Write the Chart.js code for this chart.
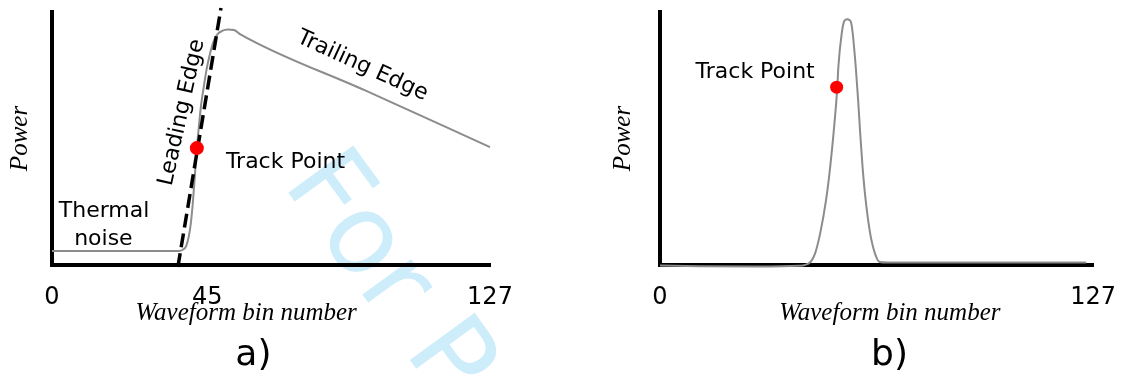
<!DOCTYPE html>
<html>
<head>
<meta charset="utf-8">
<title>Altimeter waveform shapes</title>
<script src="https://cdn.jsdelivr.net/npm/chart.js@4.4.1/dist/chart.umd.min.js"></script>
<style>
  html, body { margin: 0; padding: 0; background: #fff; }
  body { width: 1126px; height: 379px; position: relative; overflow: hidden; }
  #wrapA { position: absolute; left: 0; top: 0; width: 563px; height: 379px; }
  #wrapB { position: absolute; left: 605px; top: 0; width: 521px; height: 379px; }
  canvas { display: block; }
</style>
</head>
<body>
<div id="wrapA"><canvas id="chartA" width="563" height="379"></canvas></div>
<div id="wrapB"><canvas id="chartB" width="521" height="379"></canvas></div>
<script>
// ---- Panel a: ocean-like waveform (noise floor, leading edge, trailing edge) ----
const binsA  = [0, 36.8, 38.0, 38.9, 39.7, 40.3, 40.9, 41.5, 42.0, 42.6, 43.2, 44.1, 44.9, 45.8, 46.7, 47.8, 49.3, 51.0, 52.8, 54.5, 90.8, 127];
const powerA = [5.5, 5.5, 6.1, 7.5, 11.5, 17.0, 25.7, 36.8, 46.2, 54.9, 62.9, 71.2, 77.9, 83.4, 87.8, 90.9, 92.5, 93.1, 92.9, 91.3, 69.0, 46.6];

// fitted leading-edge line
const binsEdgeA  = [36.5, 49.0];
const powerEdgeA = [-0.8, 101.6];

// retracking point on the leading edge
const trackBinA   = [42.0];
const trackPowerA = [46.2];

const ticksA = [0, 45, 127];

// ---- Panel b: specular (peaky) waveform ----
const binsB  = [0, 11.6, 29.1, 40.7, 44.1, 45.5, 47.0, 48.7, 49.9, 50.9, 52.0, 52.3, 53.3, 53.9, 54.4, 54.9, 55.5, 56.0, 56.5, 57.4, 58.1, 58.7, 59.4, 60.3, 61.6, 63.0, 64.4, 66.8, 125.0];
const powerB = [-0.2, -0.5, -0.6, -0.3, 1.2, 4.7, 12.7, 25.7, 38.7, 52.2, 70.4, 78.3, 91.7, 96.0, 96.9, 97.1, 96.9, 96.0, 91.7, 78.3, 65.2, 52.2, 38.7, 25.7, 12.7, 4.7, 1.2, 1.0, 1.0];

const trackBinB   = [51.8];
const trackPowerB = [70.3];

const ticksB = [0, 127];

// ---- text placed in data coordinates ----
const notesA = [
  { text: 'Leading Edge',  x: 37.7, y: 60.3, angle: -77.5, baseline: 'middle' },
  { text: 'Trailing Edge', x: 90.0, y: 78.7, angle: 24.5,  baseline: 'middle' },
  { text: 'Track Point',   x: 67.7, y: 38.3, angle: 0,     baseline: 'alphabetic' },
  { text: 'Thermal',       x: 15.1, y: 19.0, angle: 0,     baseline: 'alphabetic' },
  { text: 'noise',         x: 14.9, y: 7.9,  angle: 0,     baseline: 'alphabetic' }
];
const notesB = [
  { text: 'Track Point',   x: 27.9, y: 73.9, angle: 0,     baseline: 'alphabetic' }
];

const captionA = { title: 'Waveform bin number', titleX: 56.3, panel: 'a)', panelX: 58.4 };
const captionB = { title: 'Waveform bin number', titleX: 67.4, panel: 'b)', panelX: 67.3 };

const SANS  = '"DejaVu Sans", "Liberation Sans", sans-serif';
const SERIF = '"Liberation Serif", "DejaVu Serif", serif';

function points(xs, ys) {
  return xs.map((x, i) => ({ x: x, y: ys[i] }));
}

// Draws the in-plot notes, the x-axis caption and the panel letter.
function notesPlugin(notes, caption, watermark) {
  return {
    id: 'notes',
    beforeDraw(chart) {
      if (!watermark) return;
      const ctx = chart.ctx;
      ctx.save();
      ctx.translate(282, 184);
      ctx.rotate(54 * Math.PI / 180);
      ctx.font = '110px ' + SANS;
      ctx.fillStyle = 'rgb(206, 237, 251)';
      ctx.textAlign = 'left';
      ctx.textBaseline = 'alphabetic';
      ctx.fillText('For P', 0, 0);
      ctx.restore();
    },
    afterDraw(chart) {
      const ctx = chart.ctx;
      const xs = chart.scales.x, ys = chart.scales.y;
      const area = chart.chartArea;
      ctx.save();
      ctx.fillStyle = '#000';
      ctx.font = '22px ' + SANS;
      ctx.textAlign = 'center';
      notes.forEach(n => {
        ctx.save();
        ctx.translate(xs.getPixelForValue(n.x), ys.getPixelForValue(n.y));
        ctx.rotate(n.angle * Math.PI / 180);
        ctx.textBaseline = n.baseline;
        ctx.fillText(n.text, 0, 0);
        ctx.restore();
      });
      ctx.textBaseline = 'alphabetic';
      ctx.font = 'italic 25px ' + SERIF;
      ctx.fillText(caption.title, xs.getPixelForValue(caption.titleX), area.bottom + 55);
      ctx.font = '36px ' + SANS;
      ctx.fillText(caption.panel, xs.getPixelForValue(caption.panelX), area.bottom + 100);
      ctx.restore();
    }
  };
}

function buildChart(canvasId, cfg) {
  return new Chart(document.getElementById(canvasId), {
    type: 'scatter',
    data: {
      datasets: [
        {
          label: 'Track point',
          data: points(cfg.trackX, cfg.trackY),
          showLine: false,
          pointRadius: cfg.dotRadius,
          pointHoverRadius: cfg.dotRadius,
          pointBackgroundColor: '#ff0000',
          pointBorderWidth: 0,
          order: 0
        },
        ...(cfg.edgeX ? [{
          label: 'Leading edge fit',
          data: points(cfg.edgeX, cfg.edgeY),
          showLine: true,
          borderColor: '#000',
          borderWidth: 3.5,
          borderDash: [14, 6],
          pointRadius: 0,
          clip: false,
          order: 1
        }] : []),
        {
          label: 'Waveform',
          data: points(cfg.waveX, cfg.waveY),
          showLine: true,
          borderColor: '#8c8c8c',
          borderWidth: 2,
          pointRadius: 0,
          cubicInterpolationMode: 'monotone',
          clip: false,
          order: 2
        }
      ]
    },
    options: {
      responsive: false,
      animation: false,
      devicePixelRatio: 1,
      layout: { padding: { left: 0, right: cfg.padRight, top: 12, bottom: 0 } },
      plugins: { legend: { display: false }, tooltip: { enabled: false } },
      scales: {
        x: {
          type: 'linear',
          min: 0,
          max: 127,
          afterBuildTicks: s => { s.ticks = cfg.ticks.map(v => ({ value: v })); },
          afterFit: s => { s.height = 114; },
          ticks: {
            color: '#000',
            padding: 10,
            autoSkip: false,
            maxRotation: 0,
            font: { family: SANS, size: 24 }
          },
          grid: { display: false },
          border: { display: true, color: '#000', width: 4 }
        },
        y: {
          type: 'linear',
          min: 0,
          max: 100,
          afterFit: s => { s.width = cfg.yWidth; },
          ticks: { display: false },
          grid: { display: false },
          border: { display: true, color: '#000', width: 4 },
          title: {
            display: true,
            text: 'Power',
            color: '#000',
            padding: { top: cfg.titlePad, bottom: 0 },
            font: { family: SERIF, size: 25, style: 'italic' }
          }
        }
      }
    },
    plugins: [notesPlugin(cfg.notes, cfg.caption, cfg.watermark)]
  });
}

buildChart('chartA', {
  waveX: binsA, waveY: powerA,
  edgeX: binsEdgeA, edgeY: powerEdgeA,
  trackX: trackBinA, trackY: trackPowerA,
  ticks: ticksA, notes: notesA, caption: captionA,
  dotRadius: 7, padRight: 73, yWidth: 52, titlePad: 5, watermark: true
});

buildChart('chartB', {
  waveX: binsB, waveY: powerB,
  trackX: trackBinB, trackY: trackPowerB,
  ticks: ticksB, notes: notesB, caption: captionB,
  dotRadius: 6.5, padRight: 29, yWidth: 55, titlePad: 3, watermark: false
});
</script>
</body>
</html>
